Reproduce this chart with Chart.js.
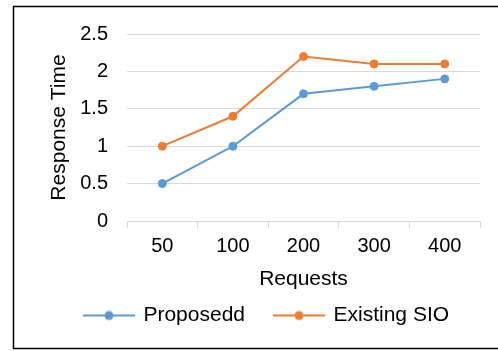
<!DOCTYPE html>
<html>
<head>
<meta charset="utf-8">
<script src="https://cdn.jsdelivr.net/npm/chart.js@4/dist/chart.umd.min.js"></script>
<style>
  html, body { margin: 0; padding: 0; background: #fff; }
  canvas { display: block; }
</style>
</head>
<body>
<canvas id="chart" width="498" height="351"></canvas>
<script>
const requests = ['50', '100', '200', '300', '400'];
const proposedTimes = [0.5, 1, 1.7, 1.8, 1.9];
const existingTimes = [1, 1.4, 2.2, 2.1, 2.1];
const yTicks = [0, 0.5, 1, 1.5, 2, 2.5];

const blue = '#5B9BD5';
const orange = '#ED7D31';
const gridColor = '#d9d9d9';
const fontFamily = '"Liberation Sans", Arial, sans-serif';

// legend marker: line with a dot, blank space on the left as item gap
function legendIcon(color) {
    const c = document.createElement('canvas');
    c.width = 74;
    c.height = 12;
    const ctx = c.getContext('2d');
    ctx.strokeStyle = color;
    ctx.lineWidth = 2;
    ctx.beginPath();
    ctx.moveTo(22, 6);
    ctx.lineTo(74, 6);
    ctx.stroke();
    ctx.fillStyle = color;
    ctx.beginPath();
    ctx.arc(48, 6, 4.5, 0, Math.PI * 2);
    ctx.fill();
    return c;
}
const icons = [legendIcon(blue), legendIcon(orange)];

const frame = {
    id: 'frame',
    beforeDraw(chart) {
        const ctx = chart.ctx;
        ctx.save();
        ctx.fillStyle = '#fff';
        ctx.fillRect(0, 0, chart.width, chart.height);
        ctx.restore();
    },
    afterDraw(chart) {
        const ctx = chart.ctx;
        ctx.save();
        ctx.strokeStyle = '#000';
        ctx.lineWidth = 1.5;
        ctx.strokeRect(13.5, 6.5, 495, 342);
        ctx.restore();
    }
};

new Chart(document.getElementById('chart').getContext('2d'), {
    type: 'line',
    data: {
        labels: requests,
        datasets: [{
            label: 'Proposedd',
            data: proposedTimes,
            borderColor: blue,
            backgroundColor: blue,
            borderWidth: 2,
            pointRadius: 4,
            pointBorderWidth: 1,
            tension: 0,
            fill: false
        }, {
            label: 'Existing SIO',
            data: existingTimes,
            borderColor: orange,
            backgroundColor: orange,
            borderWidth: 2,
            pointRadius: 4,
            pointBorderWidth: 1,
            tension: 0,
            fill: false
        }]
    },
    options: {
        responsive: false,
        animation: false,
        layout: {
            padding: { left: 32, right: 18, top: 34, bottom: 15 }
        },
        scales: {
            x: {
                offset: true,
                grid: {
                    offset: true,
                    drawOnChartArea: false,
                    drawTicks: true,
                    tickLength: 7,
                    color: gridColor
                },
                border: { color: gridColor, width: 1 },
                ticks: {
                    color: '#000',
                    padding: 6,
                    font: { family: fontFamily, size: 20 }
                },
                title: {
                    display: true,
                    text: 'Requests',
                    color: '#000',
                    padding: { top: 0, bottom: 5 },
                    font: { family: fontFamily, size: 21 }
                },
                afterFit(scale) { scale.height = 76; }
            },
            y: {
                min: 0,
                max: 2.5,
                afterBuildTicks(scale) { scale.ticks = yTicks.map(v => ({ value: v })); },
                grid: { color: gridColor, drawTicks: false },
                border: { display: false },
                ticks: {
                    color: '#000',
                    padding: 19,
                    font: { family: fontFamily, size: 20 },
                    callback: v => String(v)
                },
                title: {
                    display: true,
                    text: 'Response Time',
                    color: '#000',
                    padding: { top: 15, bottom: 0 },
                    font: { family: fontFamily, size: 21 }
                },
                afterFit(scale) { scale.width = 95; }
            }
        },
        plugins: {
            legend: {
                display: true,
                position: 'bottom',
                labels: {
                    usePointStyle: true,
                    pointStyleWidth: 70,
                    padding: 8,
                    color: '#000',
                    font: { family: fontFamily, size: 21 },
                    generateLabels(chart) {
                        return Chart.defaults.plugins.legend.labels.generateLabels(chart)
                            .map((item, i) => ({ ...item, pointStyle: icons[i] }));
                    }
                }
            },
            tooltip: { enabled: false }
        }
    },
    plugins: [frame]
});
</script>
</body>
</html>
